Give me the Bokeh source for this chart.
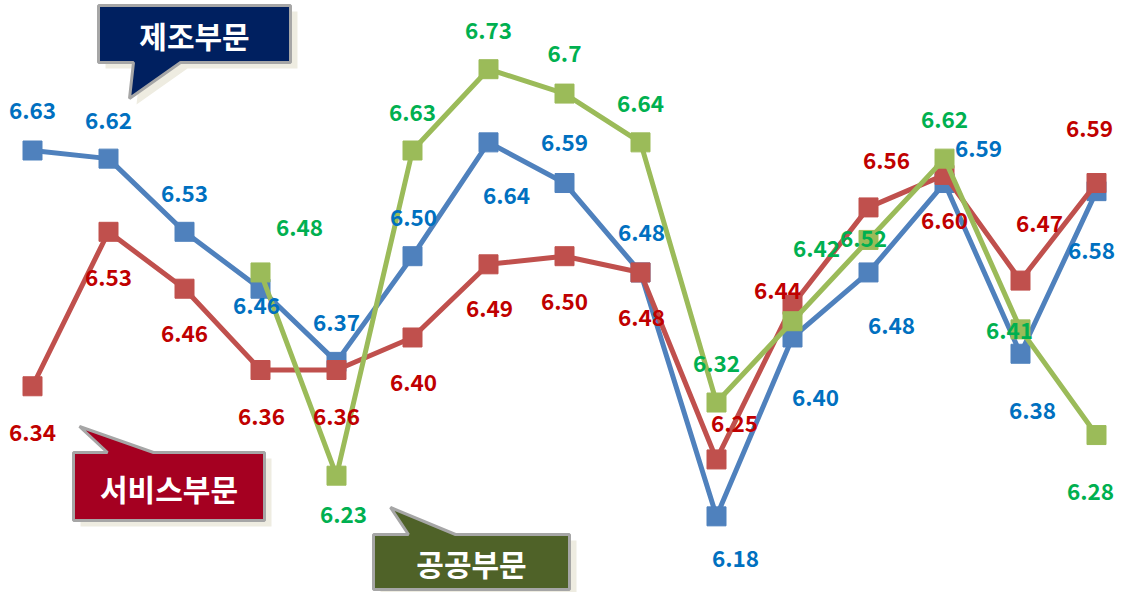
from bokeh.plotting import figure
from bokeh.models import ColumnDataSource, Range1d
from bokeh.core.properties import value
from bokeh.embed import file_html
from bokeh.resources import INLINE

# ---------------- data ----------------
periods = list(range(15))
manufacturing = [6.63, 6.62, 6.53, 6.46, 6.37, 6.50, 6.64, 6.59, 6.48, 6.18, 6.40, 6.48, 6.59, 6.38, 6.58]
services = [6.34, 6.53, 6.46, 6.36, 6.36, 6.40, 6.49, 6.50, 6.48, 6.25, 6.44, 6.56, 6.60, 6.47, 6.59]
public = [None, None, None, 6.48, 6.23, 6.63, 6.73, 6.70, 6.64, 6.32, 6.42, 6.52, 6.62, 6.41, 6.28]
series_names = ["제조부문", "서비스부문", "공공부문"]

# ---------------- label placement (px; dx right, dy down) ----------------
manu_off = [(0, -40), (0, -38), (0, -38), (-4, 17), (0, -39), (1, -39), (18, 53), (0, -41),
            (1, -40), (19, 42), (23, 60), (23, 53), (34, -35), (12, 57), (-5, 59)]
serv_off = [(0, 46), (0, 46), (0, 45), (1, 46), (0, 46), (1, 45), (1, 44), (0, 45),
            (1, 45), (18, -36), (-15, -14), (18, -47), (0, 46), (19, -57), (-7, -55)]
pub_off = [None, None, None, (39, -45), (7, 39), (0, -38), (0, -39), (0, -40), (0, -39),
           (0, -39), (24, -73), (-5, -1), (0, -39), (-11, 1), (-6, 56)]

W, H = 1119, 592
PX_X = 76.0     # px per period
PX_Y = 813.0    # px per unit

x0 = -32.0 / PX_X
y_top = 6.63 + 150.0 / PX_Y

p = figure(width=W, height=H, output_backend="svg", toolbar_location=None,
           x_range=Range1d(x0, x0 + W / PX_X), y_range=Range1d(y_top - H / PX_Y, y_top),
           min_border=0, outline_line_color=None, background_fill_color="white",
           border_fill_color="white")
p.xaxis.visible = False
p.yaxis.visible = False
p.grid.visible = False
p.extra_x_ranges = {"px": Range1d(0, W)}
p.extra_y_ranges = {"px": Range1d(H, 0)}

FONT = value("Noto Sans CJK KR")

series = [
    (manufacturing, manu_off, "#4F81BD", "#0070C0", lambda v: f"{v:.2f}"),
    (services, serv_off, "#C0504D", "#C00000", lambda v: f"{v:.2f}"),
    (public, pub_off, "#9BBB59", "#00B050", lambda v: f"{v:g}"),
]

label_sources = []
for vals, offs, lc, tc, fmt in series:
    xs = [x for x, v in zip(periods, vals) if v is not None]
    ys = [v for v in vals if v is not None]
    src = ColumnDataSource(dict(x=xs, y=ys))
    p.line("x", "y", source=src, line_color=lc, line_width=5, line_join="round")
    p.scatter("x", "y", source=src, marker="square", size=19, fill_color=lc, line_color=lc)
    o = [off for off, v in zip(offs, vals) if v is not None]
    lsrc = ColumnDataSource(dict(x=xs, y=ys, t=[fmt(v) for v in ys],
                                 dx=[a for a, b in o], dy=[b for a, b in o]))
    label_sources.append((lsrc, tc))

for lsrc, tc in label_sources:
    p.text("x", "y", text="t", source=lsrc, x_offset="dx", y_offset="dy",
           text_color=tc, text_font=FONT, text_font_style="bold", text_font_size="22.5px",
           text_align="center", text_baseline="middle")

# ---------------- callouts (canvas px) ----------------
def callout(box, tip, base, fill, label):
    l, t, r, b = box
    tx, ty = tip
    b1, b2 = base
    if ty < t:  # pointer on top
        xs = [l, b1, tx, b2, r, r, l]
        ys = [t, t, ty, t, t, b, b]
    else:       # pointer at bottom
        xs = [l, r, r, b2, tx, b1, l]
        ys = [t, t, b, b, ty, b, b]
    p.patch([x + 7 for x in xs], [y + 6 for y in ys], x_range_name="px", y_range_name="px",
            fill_color="#EEECE1", line_color=None)
    p.patch(xs, ys, x_range_name="px", y_range_name="px", fill_color=fill,
            line_color="#A6A6A6", line_width=3)
    p.text([(l + r) / 2], [(t + b) / 2 + 1], text=[label], x_range_name="px", y_range_name="px",
           text_color="white", text_font=FONT, text_font_style="bold", text_font_size="30px",
           text_align="center", text_baseline="middle")

callout((98, 5, 290, 62), (129, 98), (133, 180), "#002060", series_names[0])
callout((73, 452, 264, 520), (79, 426), (107, 153), "#A50021", series_names[1])
callout((373, 534, 569, 589), (390, 507), (408, 455), "#4F6228", series_names[2])

open("out.html", "w").write(file_html(p, INLINE))
